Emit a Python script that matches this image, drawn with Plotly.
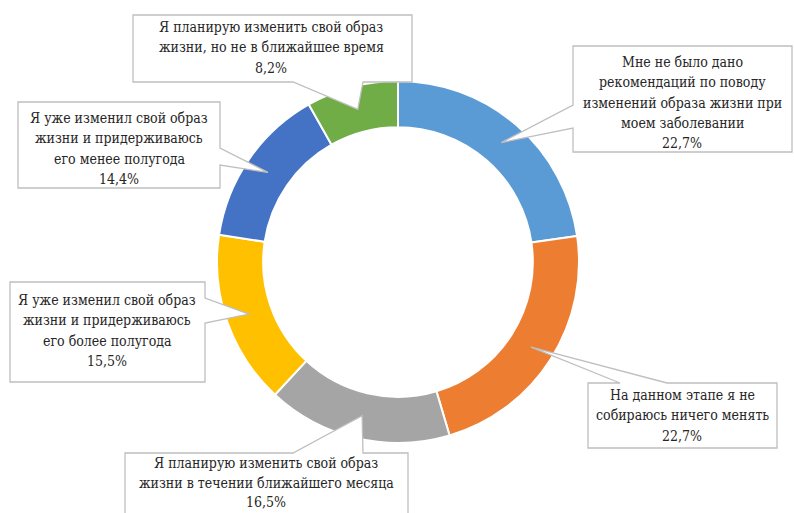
import math
import plotly.graph_objects as go

# Survey answers, in clockwise order from 12 o'clock
categories = [
    "Мне не было дано<br>рекомендаций по поводу<br>изменений образа жизни при<br>моем заболевании",
    "На данном этапе я не<br>собираюсь ничего менять",
    "Я планирую изменить свой образ<br>жизни в течении ближайшего месяца",
    "Я уже изменил свой образ<br>жизни и придерживаюсь<br>его более полугода",
    "Я уже изменил свой образ<br>жизни и придерживаюсь<br>его менее полугода",
    "Я планирую изменить свой образ<br>жизни, но не в ближайшее время",
]
shares = [22.7, 22.7, 16.5, 15.5, 14.4, 8.2]
colors = ["#5B9BD5", "#ED7D31", "#A5A5A5", "#FFC000", "#4472C4", "#70AD47"]

W, H = 794, 513
CX, CY = 398, 262          # ring centre, px
R_OUT, HOLE = 181, 0.745   # outer radius px, hole fraction
R_MID = R_OUT * (1 + HOLE) / 2
LABEL_FONT = "DejaVu Serif Condensed, DejaVu Serif, serif"
LINE_STEP = 20.3           # px between label lines


def px(x):
    return x / W


def py(y):
    return 1 - y / H


# Callout boxes: (left, top, right, bottom), side the pointer leaves from, pointer base span
boxes = [
    ((573, 46, 792, 152), "left", (105, 128)),
    ((588, 383, 777, 448), "top", (620, 667)),
    ((125, 453, 408, 530), "top", (293, 363)),
    ((10, 282, 205, 382), "right", (298, 323)),
    ((18, 102, 220, 188), "right", (148, 165)),
    ((133, 15, 412, 82), "bottom", (293, 363)),
]
# x centre and first-line y of each label block
text_anchor = [(682, 62), (682, 395), (266, 463), (107, 300), (119, 118), (271, 27)]

fig = go.Figure(go.Pie(
    labels=[c.replace("<br>", " ") for c in categories],
    values=shares,
    sort=False,
    direction="clockwise",
    rotation=0,
    hole=HOLE,
    marker=dict(colors=colors, line=dict(color="white", width=2)),
    textinfo="none",
    hoverinfo="label+percent",
    showlegend=False,
    domain=dict(x=[px(CX - R_OUT), px(CX + R_OUT)],
                y=[py(CY + R_OUT), py(CY - R_OUT)]),
))

shapes = []
annotations = []
total = sum(shares)
cum = 0.0
for i, v in enumerate(shares):
    mid = (cum + v / 2) / total * 2 * math.pi
    cum += v
    tx = CX + R_MID * math.sin(mid)
    ty = CY - R_MID * math.cos(mid)
    (l, t, r, b), side, (a0, a1) = boxes[i]
    tip = (tx, ty)
    if side == "left":
        pts = [(l, t), (r, t), (r, b), (l, b), (l, a1), tip, (l, a0)]
    elif side == "right":
        pts = [(l, t), (r, t), (r, a0), tip, (r, a1), (r, b), (l, b)]
    elif side == "top":
        pts = [(l, t), (a0, t), tip, (a1, t), (r, t), (r, b), (l, b)]
    else:
        pts = [(l, t), (r, t), (r, b), (a1, b), tip, (a0, b), (l, b)]
    path = "M " + " L ".join(f"{px(x):.5f},{py(y):.5f}" for x, y in pts) + " Z"
    shapes.append(dict(type="path", xref="paper", yref="paper", path=path,
                       fillcolor="white", line=dict(color="#BFBFBF", width=1.3),
                       layer="above"))
    cx, y0 = text_anchor[i]
    step = LINE_STEP if i != 2 else 19.5
    lines = categories[i].split("<br>") + [f"{v:.1f}".replace(".", ",") + "%"]
    for k, line in enumerate(lines):
        annotations.append(dict(x=px(cx), y=py(y0 + k * step),
                                xref="paper", yref="paper",
                                text=line, showarrow=False,
                                xanchor="center", yanchor="middle",
                                font=dict(family=LABEL_FONT, size=14,
                                          color="#262626")))

fig.update_layout(
    width=W, height=H,
    margin=dict(l=0, r=0, t=0, b=0),
    paper_bgcolor="white",
    plot_bgcolor="white",
    font=dict(family=LABEL_FONT),
    shapes=shapes,
    annotations=annotations,
)

fig.write_html("out.html")
